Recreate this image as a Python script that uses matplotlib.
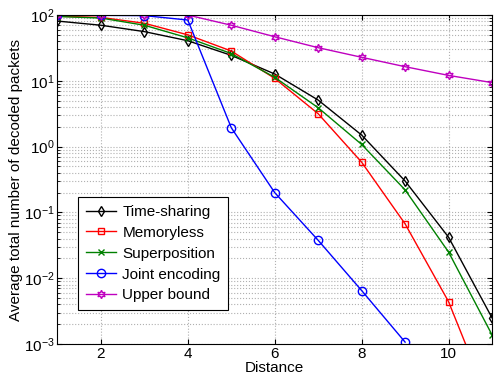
import numpy as np
import matplotlib
matplotlib.use('Agg')
import matplotlib.pyplot as plt

plt.rcParams['font.family'] = ['Liberation Sans', 'DejaVu Sans']
plt.rcParams['mathtext.fontset'] = 'custom'
plt.rcParams['mathtext.rm'] = 'Liberation Sans'

# Data
distance = [1, 2, 3, 4, 5, 6, 7, 8, 9, 10, 11]
time_sharing = [81, 70, 56, 40.7, 24.4, 12.7, 5.1, 1.5, 0.30, 0.042, 0.0025]
memoryless = [96, 92, 75, 50, 28.4, 10.9, 3.16, 0.58, 0.067, 0.0044, 0.0001]
superposition = [95, 90, 70, 45, 26, 11.3, 3.9, 1.08, 0.22, 0.025, 0.00138]
joint_dist = [1, 2, 3, 4, 5, 6, 7, 8, 9]
joint_encoding = [99, 99, 98, 84, 1.94, 0.20, 0.0377, 0.0065, 0.00107]
upper_bound = [100, 100, 100, 100, 70, 46.8, 31.9, 22.8, 16.4, 12.1, 9.4]

fig = plt.figure(figsize=(4.95, 3.76), dpi=100)
ax = fig.add_axes([0.116, 0.085, 0.878, 0.875])

ax.semilogy(distance, time_sharing, color='black', marker='d', ms=5, mfc='none', lw=1, label='Time-sharing')
ax.semilogy(distance, memoryless, color='red', marker='s', ms=5, mfc='none', lw=1, label='Memoryless')
ax.semilogy(distance, superposition, color='green', marker='x', ms=5, lw=1, label='Superposition')
ax.semilogy(joint_dist, joint_encoding, color='blue', marker='o', ms=6, mfc='none', lw=1, label='Joint encoding')
ax.semilogy(distance, upper_bound, color='m', marker=(6, 1, 0), ms=6, mfc='none', lw=1, label='Upper bound')

ax.set_xlim(1, 11)
ax.set_ylim(1e-3, 1e2)
ax.set_xticks([2, 4, 6, 8, 10])
ax.set_xlabel('Distance', fontsize=11, labelpad=0)
ax.set_ylabel('Average total number of decoded packets', fontsize=11, labelpad=1)
ax.tick_params(which='both', direction='in', top=True, right=True, labelsize=11)
ax.tick_params(axis='x', pad=2)
ax.tick_params(axis='y', pad=2)
ax.grid(True, which='major', color='#b0b0b0', linestyle=':', lw=0.8)
ax.grid(True, which='minor', axis='y', color='#b0b0b0', linestyle=':', lw=0.8)

leg = ax.legend(loc='lower left', bbox_to_anchor=(0.03, 0.08), fontsize=11, fancybox=False,
                edgecolor='black', framealpha=1, handlelength=2, borderpad=0.5, labelspacing=0.45,
                handletextpad=0.4)
leg.get_frame().set_linewidth(0.8)

fig.savefig('out.png', dpi=100)
